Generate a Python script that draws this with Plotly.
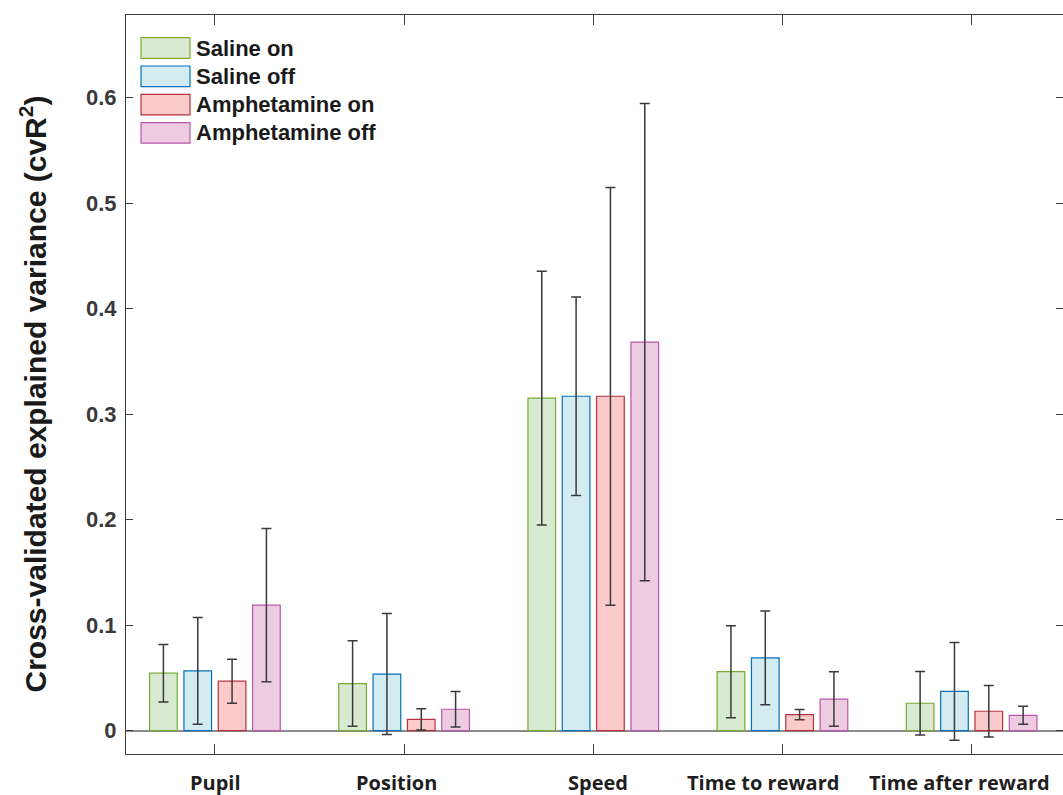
import plotly.graph_objects as go

# ---- data ----
categories = ["Pupil", "Position", "Speed", "Time to reward", "Time after reward"]
series_names = ["Saline on", "Saline off", "Amphetamine on", "Amphetamine off"]

saline_on = [0.0545, 0.0447, 0.3152, 0.0559, 0.0260]
saline_on_err = [0.0272, 0.0405, 0.1202, 0.0436, 0.0300]

saline_off = [0.0567, 0.0537, 0.3170, 0.0690, 0.0373]
saline_off_err = [0.0507, 0.0573, 0.0940, 0.0445, 0.0463]

amph_on = [0.0469, 0.0107, 0.3170, 0.0152, 0.0184]
amph_on_err = [0.0209, 0.0101, 0.1980, 0.0048, 0.0244]

amph_off = [0.1190, 0.0203, 0.3684, 0.0300, 0.0146]
amph_off_err = [0.0726, 0.0168, 0.2262, 0.0258, 0.0085]

y_tick_vals = [0, 0.1, 0.2, 0.3, 0.4, 0.5, 0.6]
y_tick_text = ["0", "0.1", "0.2", "0.3", "0.4", "0.5", "0.6"]
y_title = "Cross-validated explained variance (cvR<sup>2</sup>)"

# ---- style ----
fills = ["#d9ead3", "#d3ecf2", "#fbcaca", "#edcce2"]
edges = ["#77ac30", "#0072bd", "#b8323f", "#b956ad"]
label_shift = [1, -8, 5, -19, -12]

values = [saline_on, saline_off, amph_on, amph_off]
errors = [saline_on_err, saline_off_err, amph_on_err, amph_off_err]
xpos = list(range(1, len(categories) + 1))

fig = go.Figure()
for name, v, e, fc, ec in zip(series_names, values, errors, fills, edges):
    fig.add_trace(go.Bar(
        x=xpos, y=v, name=name,
        marker=dict(color=fc, line=dict(color=ec, width=1.2)),
        error_y=dict(type="data", array=e, visible=True,
                     color="#3a3a3a", thickness=1.5, width=5),
        showlegend=False,
    ))

axis_color = "#3c3c3c"
fig.update_layout(
    width=1063, height=795,
    margin=dict(l=126, r=0, t=15, b=41),
    paper_bgcolor="white", plot_bgcolor="white",
    barmode="group", bargap=0.274, bargroupgap=0.195,
    font=dict(family="Liberation Sans, Arial, sans-serif", color="#262626"),
    xaxis=dict(
        range=[0.53, 5.483], tickvals=xpos, showticklabels=False,
        ticks="inside", ticklen=10, tickcolor=axis_color, tickwidth=1,
        showline=True, linecolor=axis_color, linewidth=1, mirror="ticks",
        showgrid=False, zeroline=False,
    ),
    yaxis=dict(
        range=[-0.0221, 0.6784], tickvals=y_tick_vals, ticktext=y_tick_text,
        ticks="inside", ticklen=7, tickcolor=axis_color, tickwidth=1,
        showline=True, linecolor=axis_color, linewidth=1, mirror="ticks",
        showgrid=False, zeroline=True, zerolinecolor="#8c8c8c", zerolinewidth=2,
        tickfont=dict(size=22, family="Liberation Sans, Arial, sans-serif",
                      color="#3a3a3a", weight="bold"),
        ticklabelstandoff=4,
    ),
)

# y-axis title
fig.add_annotation(
    x=(33 - 126) / 937, y=0.5, xref="paper", yref="paper",
    xanchor="center", yanchor="middle", yshift=-10, textangle=-90,
    text=f"<b>{y_title}</b>", showarrow=False,
    font=dict(size=30, color="#1a1a1a", family="Liberation Sans, Arial, sans-serif"),
)

# category labels
for xi, cat, sh in zip(xpos, categories, label_shift):
    fig.add_annotation(
        x=xi, y=0, xref="x", yref="paper", yanchor="middle", yshift=-28, xshift=sh,
        text=f"<b>{cat}</b>", showarrow=False,
        font=dict(family="Open Sans, Noto Sans, sans-serif", size=20, color="#1e1e1e"),
    )

# legend (drawn manually to match swatch size)
row_h = 28.3 / 739
top = 1 - (37.7 - 15) / 739
sw_h = 20.6 / 739
x0, x1 = (141 - 126) / 937, (190 - 126) / 937
for i, (name, fc, ec) in enumerate(zip(series_names, fills, edges)):
    yt = top - i * row_h
    fig.add_shape(type="rect", xref="paper", yref="paper",
                  x0=x0, x1=x1, y0=yt - sw_h, y1=yt,
                  fillcolor=fc, line=dict(color=ec, width=1.2))
    fig.add_annotation(x=x1 + 4 / 937, y=yt - sw_h / 2, xref="paper", yref="paper",
                       xanchor="left", yanchor="middle", showarrow=False,
                       text=f"<b>{name}</b>",
                       font=dict(size=22, color="#1a1a1a",
                                 family="Liberation Sans, Arial, sans-serif"))

fig.write_html("out.html")
